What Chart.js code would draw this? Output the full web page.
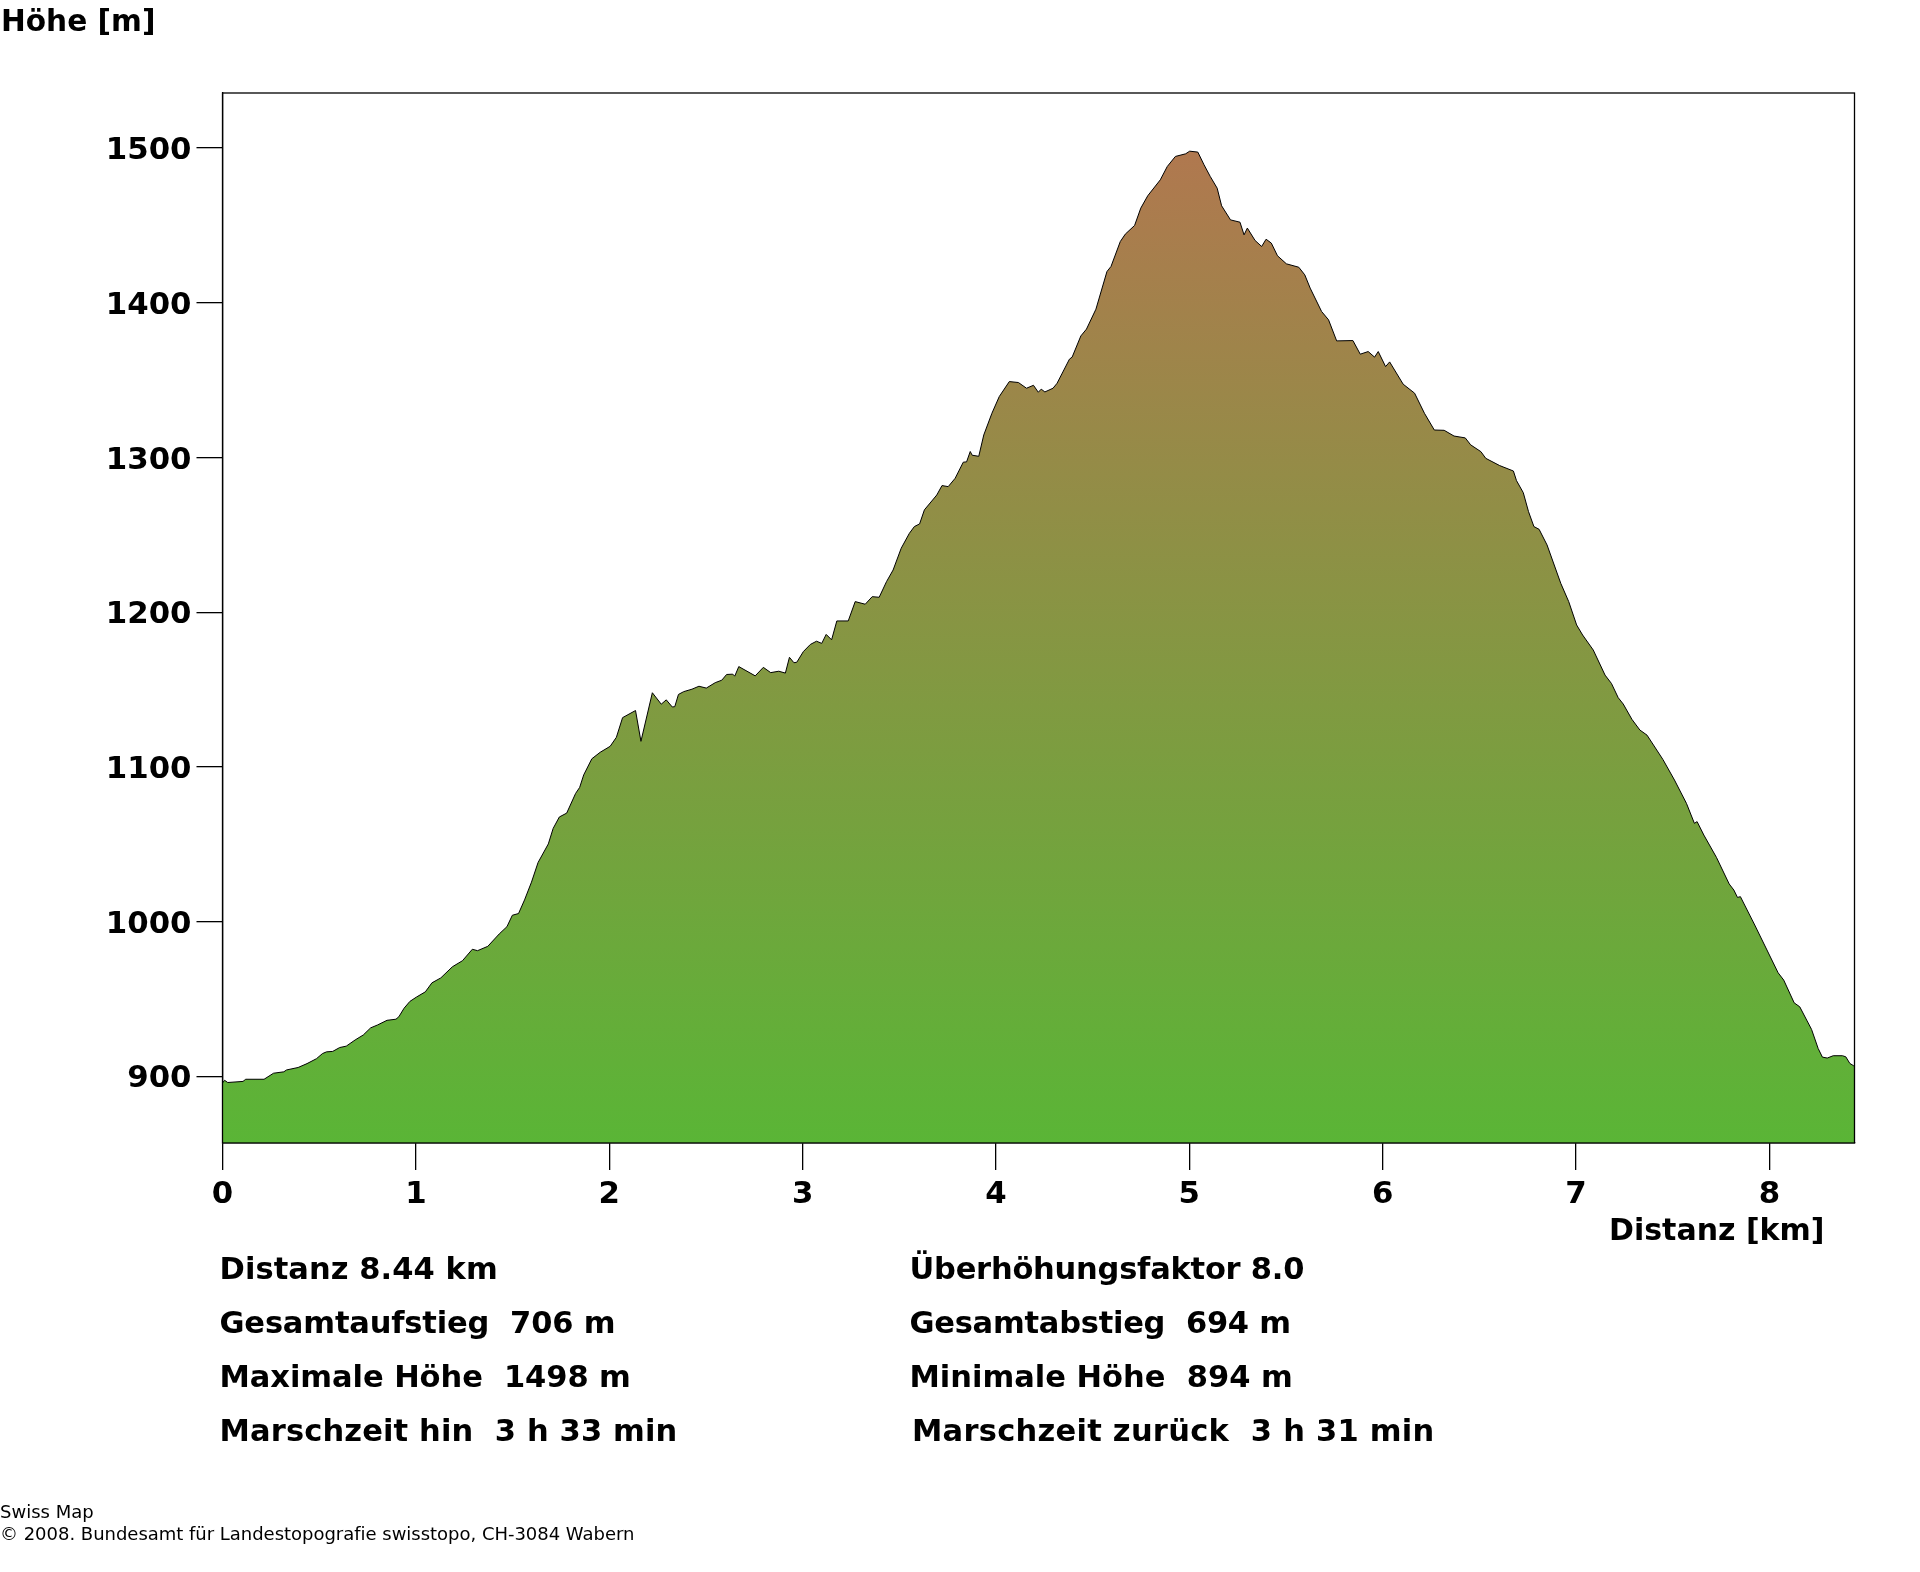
<!DOCTYPE html>
<html>
<head>
<meta charset="utf-8">
<title>Höhenprofil</title>
<script src="https://cdn.jsdelivr.net/npm/chart.js@4/dist/chart.umd.min.js"></script>
<style>
  html, body { margin: 0; padding: 0; background: #fff; }
  #wrap { position: relative; width: 1920px; height: 1572px; overflow: hidden; }
  canvas { display: block; }
  .t { position: absolute; white-space: pre; color: #000; font-family: "DejaVu Sans"; font-weight: bold; font-size: 30.5px; line-height: 36px; }
  .small { font-weight: normal; font-size: 18px; line-height: 22px; }
</style>
</head>
<body>
<div id="wrap">
  <canvas id="chart" width="1920" height="1572"></canvas>
  <div class="t" style="left:1px;top:3px;font-size:29.6px">Höhe [m]</div>
  <div class="t" style="left:1609px;top:1212px;font-size:30px">Distanz [km]</div>
  <div class="t" style="left:219.5px;top:1251px;letter-spacing:.08px">Distanz 8.44 km</div>
  <div class="t" style="left:219.5px;top:1305px;letter-spacing:-.17px">Gesamtaufstieg  706 m</div>
  <div class="t" style="left:219.5px;top:1359px;letter-spacing:-.06px">Maximale Höhe  1498 m</div>
  <div class="t" style="left:219.5px;top:1413px;letter-spacing:.14px">Marschzeit hin  3 h 33 min</div>
  <div class="t" style="left:909.5px;top:1251px;letter-spacing:-.23px">Überhöhungsfaktor 8.0</div>
  <div class="t" style="left:909.5px;top:1305px;letter-spacing:-.25px">Gesamtabstieg  694 m</div>
  <div class="t" style="left:909.5px;top:1359px">Minimale Höhe  894 m</div>
  <div class="t" style="left:912px;top:1413px;letter-spacing:.26px">Marschzeit zurück  3 h 31 min</div>
  <div class="t small" style="left:0;top:1501px">Swiss Map</div>
  <div class="t small" style="left:0;top:1523px;letter-spacing:-.02px">© 2008. Bundesamt für Landestopografie swisstopo, CH-3084 Wabern</div>
</div>
<script>
const distanz = [
  0, 0.011, 0.027, 0.106, 0.120, 0.215, 0.264, 0.317, 0.331, 0.391, 0.437, 0.486, 0.517, 0.538, 0.570, 0.606,
  0.640, 0.686, 0.728, 0.766, 0.802, 0.851, 0.897, 0.912, 0.939, 0.969, 1.003, 1.049, 1.083, 1.129, 1.189, 1.241,
  1.292, 1.319, 1.372, 1.431, 1.471, 1.499, 1.531, 1.562, 1.598, 1.632, 1.685, 1.710, 1.742, 1.780, 1.826, 1.847,
  1.868, 1.910, 1.953, 2.005, 2.037, 2.069, 2.136, 2.164, 2.223, 2.269, 2.295, 2.326, 2.339, 2.358, 2.385, 2.428,
  2.464, 2.502, 2.548, 2.582, 2.607, 2.639, 2.649, 2.670, 2.755, 2.797, 2.835, 2.877, 2.911, 2.932, 2.955, 2.970,
  3.004, 3.040, 3.072, 3.099, 3.122, 3.150, 3.177, 3.236, 3.272, 3.324, 3.360, 3.396, 3.434, 3.468, 3.510, 3.552,
  3.578, 3.605, 3.630, 3.694, 3.721, 3.753, 3.789, 3.831, 3.848, 3.867, 3.877, 3.911, 3.937, 3.979, 4.017, 4.069,
  4.116, 4.158, 4.194, 4.219, 4.234, 4.253, 4.295, 4.316, 4.380, 4.394, 4.439, 4.468, 4.517, 4.574, 4.595, 4.643,
  4.669, 4.717, 4.749, 4.785, 4.850, 4.886, 4.928, 4.981, 5.002, 5.044, 5.076, 5.108, 5.144, 5.167, 5.213, 5.262,
  5.283, 5.300, 5.340, 5.374, 5.397, 5.424, 5.456, 5.502, 5.566, 5.597, 5.625, 5.684, 5.720, 5.762, 5.846, 5.884,
  5.925, 5.958, 5.977, 6.015, 6.036, 6.106, 6.165, 6.216, 6.267, 6.318, 6.369, 6.427, 6.455, 6.508, 6.533, 6.605,
  6.676, 6.692, 6.727, 6.754, 6.782, 6.809, 6.850, 6.921, 6.962, 7.003, 7.034, 7.089, 7.150, 7.183, 7.218, 7.244,
  7.289, 7.330, 7.367, 7.449, 7.509, 7.571, 7.612, 7.626, 7.661, 7.726, 7.792, 7.816, 7.835, 7.850, 7.924, 8.045,
  8.074, 8.128, 8.157, 8.218, 8.252, 8.274, 8.299, 8.330, 8.378, 8.395, 8.416, 8.436, 8.44
];
const hoehe = [
  895.8, 897.5, 896.1, 896.8, 898.2, 898.2, 902.1, 903.0, 904.2, 905.8, 908.3, 911.5, 914.8, 915.9, 916.2, 918.7,
  919.6, 923.6, 926.8, 931.4, 933.3, 936.3, 937.0, 938.6, 944.1, 948.5, 951.3, 954.7, 960.5, 963.7, 970.9, 974.8,
  982.2, 981.3, 984.1, 992.1, 996.8, 1004.2, 1005.3, 1014.1, 1025.6, 1038.3, 1050.3, 1060.3, 1067.7, 1070.2, 1082.9, 1086.8,
  1094.9, 1105.3, 1109.5, 1113.4, 1119.2, 1131.9, 1136.5, 1116.6, 1148.0, 1140.6, 1143.4, 1138.8, 1139.0, 1146.9, 1148.7, 1150.3,
  1152.2, 1151.0, 1154.5, 1156.1, 1159.8, 1160.0, 1158.7, 1164.9, 1158.9, 1164.4, 1161.0, 1161.9, 1160.7, 1170.9, 1167.4, 1167.7,
  1174.6, 1179.2, 1181.3, 1179.9, 1185.7, 1182.2, 1194.4, 1194.4, 1206.9, 1205.2, 1210.1, 1209.7, 1219.8, 1227.3, 1241.4, 1251.0,
  1255.4, 1257.1, 1266.2, 1275.8, 1281.9, 1281.2, 1286.6, 1297.0, 1297.2, 1303.9, 1301.5, 1300.8, 1314.6, 1328.6, 1339.4, 1349.1,
  1348.5, 1344.8, 1346.7, 1342.2, 1344.2, 1342.4, 1344.8, 1348.0, 1363.6, 1364.9, 1378.6, 1383.0, 1395.9, 1420.2, 1423.5, 1439.6,
  1444.4, 1450.0, 1461.2, 1469.2, 1479.5, 1488.1, 1494.6, 1496.3, 1498.0, 1497.4, 1489.2, 1481.7, 1474.1, 1462.7, 1453.6, 1452.1,
  1443.9, 1448.3, 1440.3, 1436.4, 1441.1, 1438.6, 1430.4, 1425.2, 1423.0, 1418.1, 1409.5, 1394.4, 1389.0, 1375.4, 1375.6, 1366.8,
  1368.5, 1364.9, 1368.5, 1358.8, 1361.8, 1347.4, 1341.6, 1328.6, 1317.8, 1317.6, 1313.9, 1312.7, 1308.2, 1303.8, 1299.5, 1294.8,
  1291.3, 1285.1, 1277.3, 1265.1, 1255.4, 1253.6, 1243.5, 1218.7, 1206.9, 1191.8, 1185.3, 1175.6, 1159.4, 1154.0, 1144.8, 1140.7,
  1130.8, 1123.9, 1120.6, 1104.9, 1091.6, 1076.5, 1063.6, 1064.7, 1056.0, 1041.6, 1024.4, 1020.5, 1015.7, 1016.2, 997.9, 967.0,
  962.3, 947.6, 945.0, 930.4, 918.1, 912.5, 911.9, 913.4, 913.4, 912.7, 908.4, 906.9, 906.9
];
const kmTicks = [0, 1, 2, 3, 4, 5, 6, 7, 8];
const hoeheTicks = [900, 1000, 1100, 1200, 1300, 1400, 1500];

const tickFont = { family: "DejaVu Sans", weight: "bold", size: 30.8 };

// Rahmen oben und rechts, die Achsen zeichnen nur links und unten
const frame = {
  id: "frame",
  beforeDraw(c) {
    // Hoehenlabels sitzen im Original etwas tiefer als die Tickmitte
    c.scales.y.getLabelItems().forEach(item => { item.options.translation[1] += 3; });
  },
  afterDraw(c) {
    const a = c.chartArea, ctx = c.ctx;
    ctx.save();
    ctx.strokeStyle = "#000";
    ctx.lineWidth = 1.3;
    ctx.strokeRect(a.left, a.top, a.right - a.left, a.bottom - a.top);
    ctx.restore();
  }
};

function hoehenVerlauf(context) {
  const c = context.chart;
  if (!c.chartArea) return "#5ab536";
  const y = c.scales.y;
  const g = c.ctx.createLinearGradient(0, y.getPixelForValue(857), 0, y.getPixelForValue(1498));
  g.addColorStop(0, "#5ab536");
  g.addColorStop(1, "#b0784f");
  return g;
}

new Chart(document.getElementById("chart"), {
  type: "line",
  plugins: [frame],
  data: {
    datasets: [{
      data: distanz.map((d, i) => ({ x: d, y: hoehe[i] })),
      borderColor: "#000",
      borderWidth: 1,
      pointRadius: 0,
      tension: 0,
      fill: "start",
      backgroundColor: hoehenVerlauf
    }]
  },
  options: {
    responsive: false,
    animation: false,
    events: [],
    layout: { padding: { left: 0, top: 93, right: 65.5, bottom: 369 } },
    plugins: { legend: { display: false }, tooltip: { enabled: false } },
    scales: {
      x: {
        type: "linear",
        min: 0,
        max: 8.44,
        afterBuildTicks: s => { s.ticks = kmTicks.map(v => ({ value: v })); },
        afterFit: s => { s.height = 60; },
        grid: { drawOnChartArea: false, drawTicks: true, tickLength: 27, color: "#000", lineWidth: 1.3 },
        border: { color: "#000", width: 1.3 },
        ticks: { color: "#000", font: tickFont, padding: 7, autoSkip: false, maxRotation: 0, callback: v => String(v) }
      },
      y: {
        min: 857,
        max: 1535.6,
        afterBuildTicks: s => { s.ticks = hoeheTicks.map(v => ({ value: v })); },
        afterFit: s => { s.width = 222.5; },
        grid: { drawOnChartArea: false, drawTicks: true, tickLength: 26, color: "#000", lineWidth: 1.3 },
        border: { color: "#000", width: 1.3 },
        ticks: { color: "#000", font: tickFont, padding: 5, autoSkip: false, callback: v => String(v) }
      }
    }
  }
});
</script>
</body>
</html>
